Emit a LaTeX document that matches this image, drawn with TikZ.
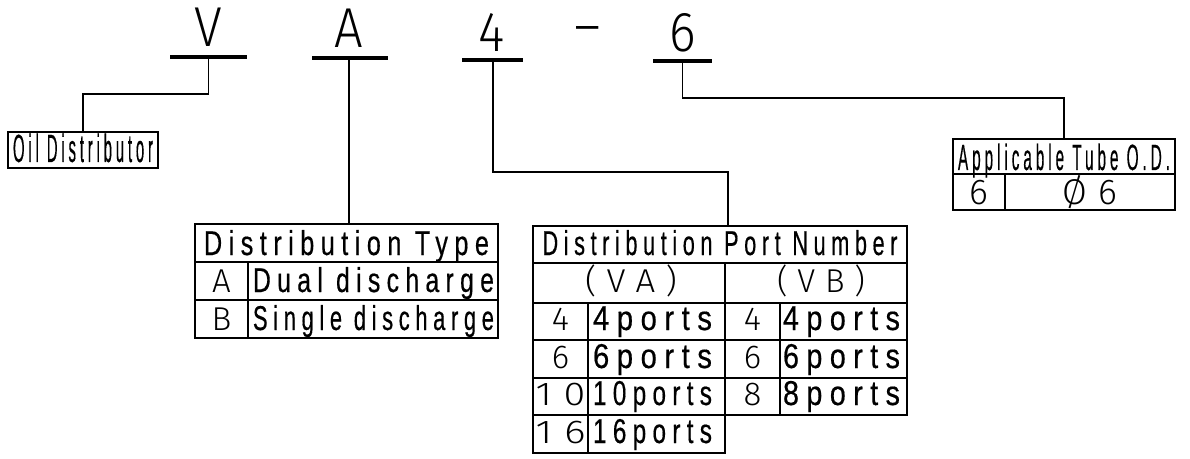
\documentclass[tikz,border=0pt]{standalone}
\usepackage{graphicx}
\usepackage{fontspec}
\setmainfont{Liberation Sans}
\newfontfamily\bigfont[FakeStretch=0.9]{Fira Sans Light}
\newfontfamily\cadfont[FakeStretch=0.7,LetterSpace=18,FakeBold=0.4]{Liberation Sans}
\newfontfamily\simfont[LetterSpace=30]{Fira Sans Light}
\newlength{\pxu}
\setlength{\pxu}{0.025cm}
\newcommand{\fit}[2]{\resizebox{#1\pxu}{\height}{#2}}

\begin{document}
\begin{tikzpicture}[x=0.025cm,y=-0.025cm,line width=1.5\pxu,
	big/.style={anchor=base,inner sep=0,font=\bigfont\fontsize{40}{40}\selectfont},
	txt/.style={anchor=base,inner sep=0,font=\cadfont\fontsize{24.5}{26}\selectfont},
	wide/.style={anchor=base,inner sep=0,font=\cadfont\fontsize{28}{30}\selectfont},
	num/.style={anchor=base,inner sep=0,font=\simfont\fontsize{23.5}{25}\selectfont},
	box/.style={draw,inner sep=0},
	bar/.style={line width=4\pxu}]
	\useasboundingbox (0,0) rectangle (1190,459);
	% model code
	\node[big] (V) at (208,47) {V};
	\node[big] (A) at (349,48) {A};
	\node[big] (four) at (492,52) {4};
	\node[big] (dash) at (588,46) {–};
	\node[big] (six) at (683,52) {6};
	\draw[bar] (170,57) -- (247,57);
	\draw[bar] (312,58) -- (388,58);
	\draw[bar] (462,60) -- (523,60);
	\draw[bar] (653,61) -- (712,61);
	\coordinate (vbar) at (208.5,57);
	\coordinate (abar) at (349,58);
	\coordinate (fbar) at (493,60);
	\coordinate (sbar) at (682.5,61);

	% oil distributor
	\node[box,minimum width=150\pxu,minimum height=36\pxu] (oil) at (83,150) {};
	\node[wide] (oiltxt) at (83,162) {\fit{140}{Oil Distributor}};

	% distribution type
	\node[box,minimum width=303\pxu,minimum height=38\pxu] (type) at (346.5,243) {};
	\node[txt] (typetxt) at (346.5,255) {\fit{285}{Distribution Type}};
	\draw (195,262) rectangle (498,338);
	\draw (195,300) -- (498,300);
	\draw (248,262) -- (248,338);
	\node[num] (ta) at (221.5,292) {A};
	\node[txt] (tatxt) at (373.5,292) {\fit{241}{Dual discharge}};
	\node[num] (tb) at (221.5,330) {B};
	\node[txt] (tbtxt) at (373.5,330) {\fit{241}{Single discharge}};

	% distribution port number
	\node[box,minimum width=374\pxu,minimum height=37\pxu] (port) at (720,244.5) {};
	\node[txt] (porttxt) at (720,255) {\fit{355}{Distribution Port Number}};
	\draw (533,263) rectangle (907,415);
	\draw (533,415) rectangle (725,453);
	\draw (725,263) -- (725,415);
	\draw (533,303) -- (907,303);
	\draw (533,340) -- (907,340);
	\draw (533,378) -- (907,378);
	\draw (588,303) -- (588,453);
	\draw (780,303) -- (780,415);
	\node[num] (va) at (631,292) {\fit{92}{(VA)}};
	\node[num] (vb) at (821,292) {\fit{88}{(VB)}};
	\node[num] (a4) at (560.5,330) {4};
	\node[txt] (a4txt) at (652.5,330) {\fit{119}{4ports}};
	\node[num] (a6) at (560.5,368) {6};
	\node[txt] (a6txt) at (652.5,368) {\fit{119}{6ports}};
	\node[num] (a10) at (560.5,405) {\fit{50}{10}};
	\node[txt] (a10txt) at (652.5,405) {\fit{119}{10ports}};
	\node[num] (a16) at (560.5,443) {\fit{50}{16}};
	\node[txt] (a16txt) at (652.5,443) {\fit{119}{16ports}};
	\node[num] (b4) at (752.5,330) {4};
	\node[txt] (b4txt) at (841.5,330) {\fit{117}{4ports}};
	\node[num] (b6) at (752.5,368) {6};
	\node[txt] (b6txt) at (841.5,368) {\fit{117}{6ports}};
	\node[num] (b8) at (752.5,405) {8};
	\node[txt] (b8txt) at (841.5,405) {\fit{117}{8ports}};

	% applicable tube
	\node[box,minimum width=222\pxu,minimum height=35\pxu] (tube) at (1064,156.5) {};
	\node[wide,font=\cadfont\fontsize{26}{28}\selectfont] (tubetxt) at (1064,170) {\fit{212}{Applicable Tube O.D.}};
	\draw (953,174) rectangle (1175,210);
	\draw (1005,174) -- (1005,210);
	\node[num,font=\simfont\fontsize{25.5}{27}\selectfont] (t6) at (979,205) {6};
	\node[num,font=\simfont\fontsize{25.5}{27}\selectfont] (t6d) at (1090,205) {Ø6};

	% leaders
	\draw (vbar) -- ++(0,37) -| (oil.north);
	\draw (abar) -- (abar |- type.north);
	\draw (fbar) -- ++(0,112) -| ([xshift=8\pxu]port.north);
	\draw (sbar) -- ++(0,37) -| (tube.north);
\end{tikzpicture}
\end{document}
